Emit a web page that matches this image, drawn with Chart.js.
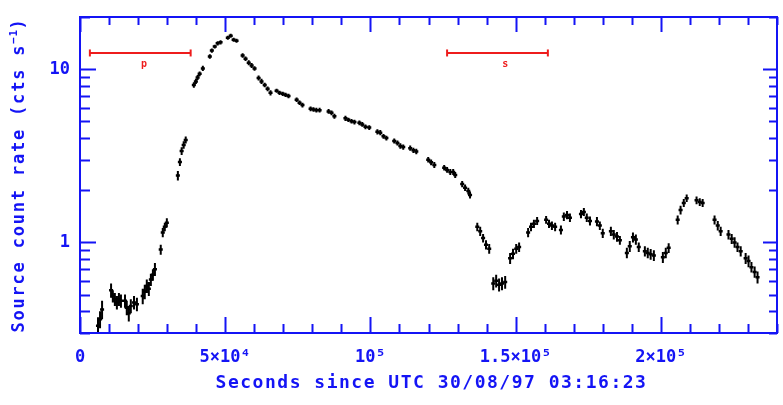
<!DOCTYPE html>
<html>
<head>
<meta charset="utf-8">
<script src="https://cdn.jsdelivr.net/npm/chart.js@4/dist/chart.umd.min.js"></script>
<style>
  html, body { margin: 0; padding: 0; background: #fff; overflow: hidden; }
  canvas { display: block; }
</style>
</head>
<body>
<canvas id="lc" width="783" height="405"></canvas>
<script>
// Light curve: bin centre time (s), source count rate (cts/s) and 1-sigma error
const times = [
  6200, 6900, 7600,
  10700, 11300, 12000, 12700, 13400, 14100,
  15500, 16100, 16800, 17500, 18600, 19600,
  21600, 22300, 23000, 23700,
  24400, 25100, 25800,
  27800,
  28500, 29200, 29900,
  33700, 34400, 35000, 35700, 36400,
  39200, 39900, 40500, 41200, 42300,
  44700, 45400, 46400, 47400, 48400,
  50900, 51900, 52900, 53900,
  56000, 57000, 58100, 59100, 60100,
  61500, 62500, 63600, 64600, 65600,
  67700, 68700, 69800, 70800, 71800,
  74600, 75600, 76600,
  79400, 80400, 81400, 82500,
  85600, 86600, 87600,
  91400, 92400, 93500, 94500,
  96200, 97200, 98300, 99600,
  102400, 103400, 104500, 105500,
  108200, 109300, 110300, 111300,
  113700, 114800, 115800,
  119900, 120900, 122000,
  125400, 126400, 127500, 128500, 129200,
  131600, 132600, 133700, 134300,
  136800, 137800, 138800, 139800, 140900,
  142300, 143300, 144300, 145300, 146400,
  148100, 149100, 150200, 151200,
  154300, 155300, 156300, 157400,
  160500, 161500, 162500, 163600,
  165600, 166600, 167700, 168700,
  172500, 173500, 174500, 175600,
  178000, 179000, 180000,
  182800, 183800, 184900, 185900,
  188300, 189300, 190400, 191400, 192400,
  194500, 195500, 196500, 197600,
  200700, 201700, 202700,
  205800, 206800, 207900, 208900,
  212300, 213400, 214400,
  218500, 219600, 220600,
  223300, 224400, 225400, 226400, 227500,
  229200, 230200, 231200, 232300, 233300
];
const rates = [
  0.33, 0.36, 0.41,
  0.53, 0.49, 0.47, 0.45, 0.47, 0.46,
  0.46, 0.42, 0.39, 0.43, 0.45, 0.44,
  0.49, 0.52, 0.56, 0.54,
  0.61, 0.65, 0.70,
  0.91,
  1.14, 1.23, 1.30,
  2.43, 2.91, 3.37, 3.65, 3.90,
  8.11, 8.5, 8.95, 9.4, 10.1,
  11.85, 12.8, 13.5, 14.1, 14.3,
  15.2, 15.6, 14.8, 14.6,
  12.0, 11.5, 10.9, 10.5, 10.1,
  8.9, 8.5, 8.1, 7.7, 7.3,
  7.5, 7.3, 7.2, 7.1, 7.0,
  6.67, 6.4, 6.2,
  5.9, 5.85, 5.8, 5.8,
  5.7, 5.6, 5.35,
  5.2, 5.1, 5.0, 4.95,
  4.9, 4.8, 4.65, 4.6,
  4.35, 4.3, 4.1, 4.0,
  3.85, 3.75, 3.6, 3.55,
  3.5, 3.4, 3.35,
  3.0, 2.9, 2.8,
  2.7, 2.62, 2.55, 2.55, 2.45,
  2.17, 2.07, 1.98, 1.88,
  1.23, 1.16, 1.06, 0.97, 0.92,
  0.58, 0.60, 0.57, 0.58, 0.59,
  0.81, 0.86, 0.92, 0.94,
  1.14, 1.23, 1.28, 1.33,
  1.35, 1.28, 1.25, 1.23,
  1.18, 1.41, 1.44, 1.39,
  1.46, 1.50, 1.39, 1.33,
  1.32, 1.25, 1.13,
  1.16, 1.11, 1.08, 1.03,
  0.87, 0.95, 1.07, 1.04, 0.94,
  0.89, 0.87, 0.855, 0.84,
  0.82, 0.87, 0.93,
  1.35, 1.54, 1.69, 1.80,
  1.75, 1.71, 1.69,
  1.35, 1.25, 1.16,
  1.11, 1.05, 1.00, 0.94, 0.89,
  0.81, 0.78, 0.72, 0.675, 0.63
];
const rateErrors = [
  0.04, 0.04, 0.05,
  0.05, 0.04, 0.04, 0.04, 0.04, 0.04,
  0.04, 0.04, 0.04, 0.04, 0.04, 0.04,
  0.05, 0.05, 0.05, 0.05,
  0.05, 0.05, 0.06,
  0.06,
  0.07, 0.07, 0.08,
  0.15, 0.15, 0.17, 0.18, 0.18,
  0.3, 0.3, 0.3, 0.3, 0.35,
  0.35, 0.35, 0.35, 0.4, 0.4,
  0.4, 0.4, 0.4, 0.4,
  0.35, 0.35, 0.35, 0.35, 0.3,
  0.3, 0.3, 0.25, 0.25, 0.25,
  0.2, 0.2, 0.2, 0.2, 0.2,
  0.2, 0.2, 0.2,
  0.18, 0.18, 0.18, 0.18,
  0.18, 0.18, 0.18,
  0.18, 0.15, 0.15, 0.15,
  0.15, 0.15, 0.15, 0.15,
  0.15, 0.15, 0.13, 0.13,
  0.13, 0.13, 0.13, 0.12,
  0.12, 0.12, 0.12,
  0.11, 0.11, 0.11,
  0.1, 0.1, 0.1, 0.1, 0.1,
  0.09, 0.09, 0.09, 0.09,
  0.07, 0.07, 0.06, 0.06, 0.06,
  0.05, 0.05, 0.05, 0.05, 0.05,
  0.06, 0.06, 0.06, 0.06,
  0.07, 0.07, 0.07, 0.07,
  0.07, 0.07, 0.07, 0.07,
  0.07, 0.08, 0.08, 0.08,
  0.08, 0.08, 0.08, 0.08,
  0.08, 0.07, 0.07,
  0.07, 0.07, 0.07, 0.06,
  0.06, 0.07, 0.07, 0.07, 0.06,
  0.06, 0.06, 0.06, 0.06,
  0.06, 0.06, 0.06,
  0.08, 0.09, 0.09, 0.09,
  0.09, 0.09, 0.09,
  0.08, 0.08, 0.07,
  0.07, 0.07, 0.07, 0.06, 0.06,
  0.06, 0.06, 0.05, 0.05, 0.05
];
const binHalfWidth = 700; // s

// Spectral extraction intervals marked across the top of the plot
const intervalStart = [3400, 126400];
const intervalEnd = [38100, 161100];
const intervalLevel = 12.4;
const intervalTags = ['p', 's'];
const intervalTagX = [22000, 146400];
const intervalTagLevel = 10.6;

// Axis ticks and labels
const xTickValues = [0, 50000, 100000, 150000, 200000];
const xTickLabels = ['0', '5×10⁴', '10⁵', '1.5×10⁵', '2×10⁵'];
const yTickValues = [1, 10];
const yTickLabels = ['1', '10'];
const xTitle = 'Seconds since UTC 30/08/97 03:16:23';
const yTitleMain = 'Source count rate (cts s';
const yTitleSup = '−1';
const yTitleTail = ')';

const BLUE = '#1414f5';
const RED = '#ee1c1c';
const FAMILY = '"DejaVu Sans Mono", "Liberation Mono", monospace';

// Frame with inward ticks on all four sides, plus the axis titles
const framePlugin = {
  id: 'frame',
  afterDraw(chart) {
    const { ctx, chartArea: a, scales: { x, y } } = chart;
    ctx.save();
    ctx.strokeStyle = BLUE;
    ctx.lineWidth = 2;
    ctx.strokeRect(a.left, a.top, a.right - a.left, a.bottom - a.top);
    ctx.beginPath();
    for (let v = 0; v <= x.max; v += 10000) {
      const px = Math.round(x.getPixelForValue(v)) + 0.5;
      const major = v % 50000 === 0;
      const lb = major ? 16 : 9;
      const lt = major ? 15 : 8;
      ctx.moveTo(px, a.bottom); ctx.lineTo(px, a.bottom - lb);
      ctx.moveTo(px, a.top); ctx.lineTo(px, a.top + lt);
    }
    for (const d of [0.1, 1, 10]) {
      for (let m = 1; m <= 9; m++) {
        const v = m * d;
        if (v < y.min || v > y.max) continue;
        const py = Math.round(y.getPixelForValue(v)) + 0.5;
        const major = m === 1;
        const ll = major ? 16 : 10;
        const lr = major ? 14 : 8;
        ctx.moveTo(a.left, py); ctx.lineTo(a.left + ll, py);
        ctx.moveTo(a.right, py); ctx.lineTo(a.right - lr, py);
      }
    }
    ctx.stroke();

    ctx.fillStyle = BLUE;
    ctx.font = 'bold 18px ' + FAMILY;
    ctx.letterSpacing = '1.5px';
    ctx.textAlign = 'center';
    ctx.textBaseline = 'middle';
    ctx.fillText(xTitle, (a.left + a.right) / 2 + 3, a.bottom + 50);

    ctx.translate(20, (a.top + a.bottom) / 2);
    ctx.rotate(-Math.PI / 2);
    ctx.textAlign = 'left';
    const mainFont = 'bold 17px ' + FAMILY;
    const supFont = 'bold 11px ' + FAMILY;
    ctx.font = mainFont; ctx.letterSpacing = '1.8px';
    const wMain = ctx.measureText(yTitleMain).width;
    const wTail = ctx.measureText(yTitleTail).width;
    ctx.font = supFont; ctx.letterSpacing = '0.5px';
    const wSup = ctx.measureText(yTitleSup).width;
    let cx = -(wMain + wSup + wTail) / 2;
    ctx.font = mainFont; ctx.letterSpacing = '1.8px';
    ctx.fillText(yTitleMain, cx, 0); cx += wMain;
    ctx.font = supFont; ctx.letterSpacing = '0.5px';
    ctx.fillText(yTitleSup, cx, -6); cx += wSup;
    ctx.font = mainFont; ctx.letterSpacing = '1.8px';
    ctx.fillText(yTitleTail, cx, 0);
    ctx.restore();
  }
};

// Error bars for the light-curve bins, placed by the chart's own scales
const errorBarPlugin = {
  id: 'errorBars',
  afterDatasetsDraw(chart) {
    const { ctx, chartArea: a, scales: { x, y } } = chart;
    const ds = chart.data.datasets[0];
    ctx.save();
    ctx.beginPath();
    ctx.rect(a.left, a.top, a.right - a.left, a.bottom - a.top);
    ctx.clip();
    ctx.strokeStyle = '#000';
    ctx.lineWidth = 2;
    ctx.beginPath();
    ds.data.forEach((p) => {
      const px = x.getPixelForValue(p.x);
      const top = y.getPixelForValue(p.y + p.err);
      const bot = y.getPixelForValue(Math.max(p.y - p.err, 1e-3));
      ctx.moveTo(px, top); ctx.lineTo(px, bot);
    });
    ctx.stroke();
    ctx.lineWidth = 2.5;
    ctx.beginPath();
    ds.data.forEach((p) => {
      const py = y.getPixelForValue(p.y);
      ctx.moveTo(x.getPixelForValue(p.x - binHalfWidth), py);
      ctx.lineTo(x.getPixelForValue(p.x + binHalfWidth), py);
    });
    ctx.stroke();

    ctx.fillStyle = RED;
    ctx.font = 'bold 10px ' + FAMILY;
    ctx.textAlign = 'center';
    ctx.textBaseline = 'middle';
    intervalTags.forEach((t, i) => {
      ctx.fillText(t, x.getPixelForValue(intervalTagX[i]), y.getPixelForValue(intervalTagLevel));
    });
    ctx.restore();
  }
};

const lightCurve = times.map((t, i) => ({ x: t, y: rates[i], err: rateErrors[i] }));
const intervalSets = intervalStart.map((s, i) => ({
  type: 'line',
  data: [{ x: s, y: intervalLevel }, { x: intervalEnd[i], y: intervalLevel }],
  borderColor: RED,
  borderWidth: 2,
  showLine: true,
  pointStyle: 'line',
  rotation: 90,
  pointRadius: 3.5,
  pointBorderWidth: 2,
  pointBorderColor: RED,
  pointBackgroundColor: RED
}));

const tickFont = { family: FAMILY, size: 17, weight: 'bold' };

new Chart(document.getElementById('lc'), {
  type: 'scatter',
  data: {
    datasets: [
      { data: lightCurve, pointRadius: 0, borderColor: '#000', backgroundColor: '#000' },
      ...intervalSets
    ]
  },
  options: {
    responsive: false,
    animation: false,
    devicePixelRatio: 1,
    layout: { padding: { left: 0, right: 5, top: 17, bottom: 0 } },
    plugins: { legend: { display: false }, tooltip: { enabled: false } },
    scales: {
      x: {
        type: 'linear',
        position: 'bottom',
        min: 0,
        max: 240000,
        grid: { display: false },
        border: { display: false },
        afterBuildTicks: (s) => { s.ticks = xTickValues.map((v) => ({ value: v })); },
        afterFit: (s) => { s.height = 72; },
        ticks: {
          color: BLUE,
          font: tickFont,
          padding: 6,
          maxRotation: 0,
          autoSkip: false,
          callback: (v) => xTickLabels[xTickValues.indexOf(v)]
        }
      },
      y: {
        type: 'logarithmic',
        position: 'left',
        min: 0.316,
        max: 20,
        grid: { display: false },
        border: { display: false },
        afterBuildTicks: (s) => { s.ticks = yTickValues.map((v) => ({ value: v })); },
        afterFit: (s) => { s.width = 80; },
        ticks: {
          color: BLUE,
          font: tickFont,
          padding: 2,
          autoSkip: false,
          callback: (v) => yTickLabels[yTickValues.indexOf(v)]
        }
      }
    }
  },
  plugins: [framePlugin, errorBarPlugin]
});
</script>
</body>
</html>
